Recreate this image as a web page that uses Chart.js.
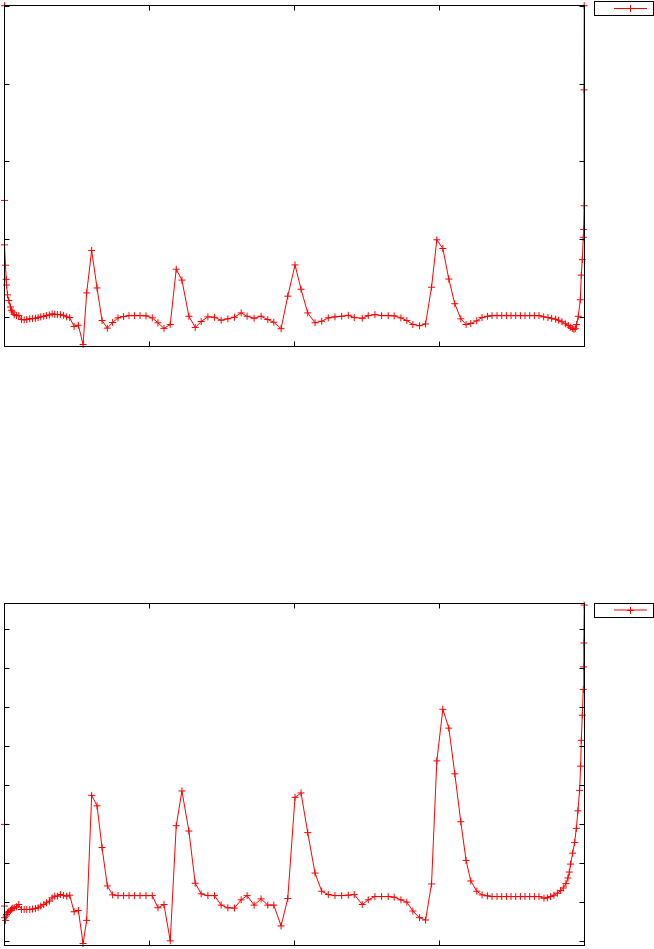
<!DOCTYPE html>
<html>
<head>
<meta charset="utf-8">
<title>Signal traces</title>
<script src="https://cdn.jsdelivr.net/npm/chart.js@4.4.0/dist/chart.umd.min.js"></script>
<style>
    html, body { margin: 0; padding: 0; background: #fff; }
    body { width: 654px; height: 949px; position: relative; overflow: hidden; }
    .chart-box { position: absolute; left: 0; width: 654px; }
    #topBox { top: 0; height: 350px; }
    #bottomBox { top: 596px; height: 353px; }
</style>
</head>
<body>
<div class="chart-box" id="topBox"><canvas id="topChart" width="654" height="350"></canvas></div>
<div class="chart-box" id="bottomBox"><canvas id="bottomChart" width="654" height="353"></canvas></div>
<script>
// Tick positions (no labels are shown in the picture)
const xTicks = [0, 1, 2, 3, 4];
const topYTicks = [0, 1, 2, 3, 4];
const bottomYTicks = [0, 1, 2, 3, 4, 5, 6, 7, 8];

// Upper trace
const topX = [
    0, 0, 0, 0.0069, 0.0117, 0.0138, 0.0207, 0.0296, 0.0413, 0.0482,
    0.0571, 0.0668, 0.0826, 0.0985, 0.1170, 0.1356, 0.1535, 0.1742, 0.1928, 0.2134,
    0.2320, 0.2499, 0.2706, 0.2892, 0.3098, 0.3284, 0.3463, 0.3649, 0.3855, 0.4062,
    0.4289, 0.4496, 0.4799, 0.5095, 0.5418, 0.5666, 0.6010, 0.6382, 0.6726, 0.7091,
    0.7456, 0.7828, 0.8213, 0.8585, 0.8971, 0.9343, 0.9756, 1.0189, 1.0582, 1.0995,
    1.1429, 1.1842, 1.2234, 1.2716, 1.3150, 1.3563, 1.4024, 1.4478, 1.4940, 1.5401,
    1.5855, 1.6317, 1.6730, 1.7212, 1.7694, 1.8155, 1.8568, 1.9071, 1.9532, 2.0034,
    2.0448, 2.0909, 2.1411, 2.1873, 2.2327, 2.2788, 2.3249, 2.3704, 2.4117, 2.4668,
    2.5081, 2.5542, 2.6003, 2.6458, 2.6871, 2.7332, 2.7745, 2.8158, 2.8620, 2.9033,
    2.9446, 2.9811, 3.0224, 3.0637, 3.1050, 3.1463, 3.1828, 3.2151, 3.2565, 3.2929,
    3.3301, 3.3618, 3.3962, 3.4286, 3.4609, 3.4926, 3.5250, 3.5573, 3.5890, 3.6213,
    3.6537, 3.6854, 3.7177, 3.7473, 3.7728, 3.8003, 3.8210, 3.8437, 3.8671, 3.8878,
    3.9015, 3.9153, 3.9263, 3.9360, 3.9449, 3.9566, 3.9704, 3.9773, 3.9842, 3.9910,
    3.9931, 3.9966, 3.9958, 3.9972
];
const topY = [
    4.0, 1.497, 0.926, 0.664, 0.482, 0.410, 0.283, 0.211, 0.127, 0.084,
    0.063, 0.029, 0.016, 0.016, -0.034, -0.038, -0.034, -0.025, -0.022, -0.018,
    -0.009, 0, 0.008, 0.016, 0.025, 0.038, 0.033, 0.029, 0.029, 0.020,
    0, -0.009, -0.123, -0.107, -0.355, 0.308, 0.854, 0.372, -0.047, -0.145,
    -0.072, -0.013, 0.004, 0.016, 0.016, 0.016, 0.013, -0.013, -0.076, -0.148,
    -0.098, 0.613, 0.473, 0.008, -0.136, -0.060, 0, -0.005, -0.043, -0.025,
    -0.005, 0.051, 0.008, -0.018, 0.008, -0.034, -0.069, -0.152, 0.266, 0.668,
    0.355, 0.051, -0.076, -0.056, -0.013, 0, 0.008, 0.020, -0.009, -0.018,
    0.016, 0.029, 0.016, 0.016, 0.013, -0.013, -0.047, -0.098, -0.114, -0.091,
    0.381, 0.991, 0.879, 0.486, 0.169, -0.025, -0.098, -0.085, -0.051, -0.009,
    0.008, 0.016, 0.016, 0.016, 0.016, 0.016, 0.016, 0.016, 0.016, 0.016,
    0.016, 0.016, 0, -0.009, -0.018, -0.030, -0.043, -0.063, -0.089, -0.110,
    -0.132, -0.148, -0.161, -0.152, -0.098, 0.008, 0.220, 0.537, 0.736, 1.023,
    1.124, 1.429, 2.919, 4.0
];

// Lower trace
const bottomX = [
    0, 0, 0, 0.0069, 0.0117, 0.0138, 0.0207, 0.0296, 0.0413, 0.0482,
    0.0571, 0.0668, 0.0826, 0.0985, 0.1170, 0.1356, 0.1535, 0.1742, 0.1928, 0.2134,
    0.2320, 0.2499, 0.2706, 0.2892, 0.3098, 0.3284, 0.3463, 0.3649, 0.3855, 0.4062,
    0.4289, 0.4496, 0.4799, 0.5095, 0.5418, 0.5666, 0.6010, 0.6382, 0.6726, 0.7091,
    0.7456, 0.7828, 0.8213, 0.8585, 0.8971, 0.9343, 0.9756, 1.0189, 1.0582, 1.0995,
    1.1429, 1.1842, 1.2234, 1.2716, 1.3150, 1.3563, 1.4024, 1.4478, 1.4940, 1.5401,
    1.5855, 1.6317, 1.6730, 1.7212, 1.7694, 1.8155, 1.8568, 1.9071, 1.9532, 2.0034,
    2.0448, 2.0909, 2.1411, 2.1873, 2.2327, 2.2788, 2.3249, 2.3704, 2.4117, 2.4668,
    2.5081, 2.5542, 2.6003, 2.6458, 2.6871, 2.7332, 2.7745, 2.8158, 2.8620, 2.9033,
    2.9446, 2.9811, 3.0224, 3.0637, 3.1050, 3.1463, 3.1828, 3.2151, 3.2565, 3.2929,
    3.3301, 3.3618, 3.3962, 3.4286, 3.4609, 3.4926, 3.5250, 3.5573, 3.5890, 3.6213,
    3.6537, 3.6854, 3.7200, 3.7433, 3.7659, 3.7886, 3.8120, 3.8348, 3.8534, 3.8713,
    3.8850, 3.8946, 3.9036, 3.9174, 3.9312, 3.9429, 3.9539, 3.9656, 3.9725, 3.9773,
    3.9842, 3.9910, 3.9931, 3.9952, 3.9972
];
const bottomY = [
    2.985, 0.891, 0.593, 0.524, 0.636, 0.677, 0.720, 0.746, 0.779, 0.814,
    0.835, 0.847, 0.873, 0.931, 0.804, 0.804, 0.804, 0.804, 0.814, 0.830,
    0.847, 0.891, 0.931, 0.975, 1.018, 1.102, 1.145, 1.145, 1.186, 1.165,
    1.145, 1.170, 0.746, 0.779, -0.069, 0.524, 3.730, 3.461, 2.392, 1.407,
    1.178, 1.160, 1.160, 1.160, 1.160, 1.160, 1.160, 1.160, 0.847, 0.931,
    0, 2.952, 3.842, 2.814, 1.476, 1.204, 1.160, 1.160, 0.916, 0.847,
    0.840, 1.051, 1.160, 0.916, 1.076, 0.916, 0.916, 0.382, 1.084, 3.679,
    3.791, 2.774, 1.738, 1.272, 1.186, 1.160, 1.160, 1.170, 1.186, 0.931,
    1.051, 1.135, 1.135, 1.135, 1.120, 1.051, 0.992, 0.763, 0.593, 0.534,
    1.458, 4.613, 5.936, 5.453, 4.282, 3.053, 2.061, 1.534, 1.272, 1.178,
    1.153, 1.135, 1.135, 1.135, 1.135, 1.135, 1.135, 1.135, 1.135, 1.135,
    1.135, 1.135, 1.094, 1.102, 1.135, 1.170, 1.221, 1.288, 1.356, 1.466,
    1.611, 1.763, 1.967, 2.247, 2.519, 2.883, 3.333, 3.858, 4.478, 5.140,
    5.784, 6.445, 7.023, 7.634, 8.608
];

const RED = '#ff0000';

// gnuplot-like frame with inward ticks on all four sides, drawn over the trace
const framePlugin = {
    id: 'frame',
    afterDatasetsDraw(chart, args, opts) {
        const { ctx, chartArea: a, scales: { x, y } } = chart;
        const left = Math.floor(a.left) + 0.5;
        const right = Math.floor(a.right) + 0.5;
        const top = Math.round(a.top) + 0.5;
        const bottom = Math.round(a.bottom) + 0.5;
        const len = 5;
        ctx.save();
        ctx.strokeStyle = '#000';
        ctx.lineWidth = 1;
        ctx.strokeRect(left, top, right - left, bottom - top);
        ctx.beginPath();
        opts.xTicks.forEach(v => {
            const px = Math.floor(x.getPixelForValue(v)) + 0.5;
            ctx.moveTo(px, bottom); ctx.lineTo(px, bottom - len);
            ctx.moveTo(px, top); ctx.lineTo(px, top + len);
        });
        opts.yTicks.forEach(v => {
            const py = Math.round(y.getPixelForValue(v)) + 0.5;
            ctx.moveTo(left, py); ctx.lineTo(left + len, py);
            ctx.moveTo(right, py); ctx.lineTo(right - len, py);
        });
        ctx.stroke();
        ctx.restore();
    }
};

// key box in the top right corner: line sample with a cross marker
const keyPlugin = {
    id: 'key',
    afterDraw(chart, args, opts) {
        const { ctx } = chart;
        const b = opts.box;
        ctx.save();
        ctx.strokeStyle = '#000';
        ctx.lineWidth = 1;
        ctx.strokeRect(b.x + 0.5, b.y + 0.5, b.w, b.h);
        const ly = b.y + opts.lineOffset;
        ctx.strokeStyle = RED;
        ctx.beginPath();
        ctx.moveTo(b.x + 20, ly);
        ctx.lineTo(b.x + 53, ly);
        ctx.stroke();
        const mx = b.x + 36.5;
        const my = Math.floor(ly) + 0.5;
        ctx.beginPath();
        ctx.moveTo(mx - 3.5, my); ctx.lineTo(mx + 3.5, my);
        ctx.moveTo(mx, my - 3.5); ctx.lineTo(mx, my + 3.5);
        ctx.stroke();
        ctx.restore();
    }
};

function makeChart(canvasId, xs, ys, cfg) {
    const points = xs.map((x, i) => ({ x: x, y: ys[i] }));
    return new Chart(document.getElementById(canvasId), {
        type: 'scatter',
        data: {
            datasets: [{
                data: points,
                showLine: true,
                borderColor: RED,
                borderWidth: 1,
                backgroundColor: RED,
                pointStyle: 'cross',
                pointRadius: 3.5,
                pointBorderColor: RED,
                pointBorderWidth: 1,
                pointHoverRadius: 3.5,
                tension: 0,
                clip: false
            }]
        },
        options: {
            responsive: false,
            animation: false,
            events: [],
            layout: { padding: cfg.padding },
            plugins: {
                legend: { display: false },
                tooltip: { enabled: false },
                frame: { xTicks: xTicks, yTicks: cfg.yTicks },
                key: { box: cfg.keyBox, lineOffset: cfg.keyLine }
            },
            scales: {
                x: { type: 'linear', display: false, min: 0, max: 4 },
                y: { type: 'linear', display: false, min: cfg.yMin, max: cfg.yMax }
            }
        },
        plugins: [framePlugin, keyPlugin]
    });
}

document.addEventListener('DOMContentLoaded', () => {
    makeChart('topChart', topX, topY, {
        padding: { left: 3.4, right: 69.4, top: 1, bottom: 3.7 },
        yTicks: topYTicks,
        yMin: -0.368,
        yMax: 4.016,
        keyBox: { x: 594, y: 1, w: 59, h: 14 },
        keyLine: 7.5
    });
    makeChart('bottomChart', bottomX, bottomY, {
        padding: { left: 3.4, right: 69.4, top: 7, bottom: 2 },
        yTicks: bottomYTicks,
        yMin: -0.094,
        yMax: 8.661,
        keyBox: { x: 594, y: 7, w: 59, h: 14 },
        keyLine: 7
    });
});
</script>
</body>
</html>
